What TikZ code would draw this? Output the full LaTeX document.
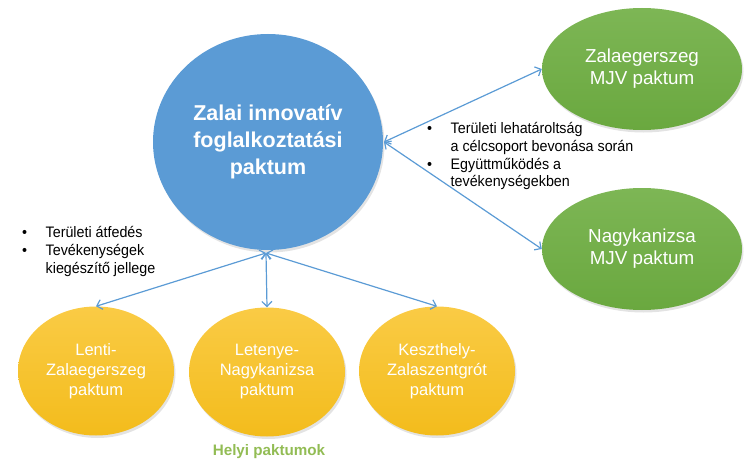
\documentclass[tikz,border=0pt]{standalone}
\usepackage{fontspec}
\setmainfont{Liberation Sans}
\usetikzlibrary{shapes.geometric,arrows.meta,shadows}
\definecolor{hubblue}{HTML}{5B9BD5}
\definecolor{linkblue}{HTML}{5B9BD5}
\definecolor{grtop}{HTML}{7DB655}
\definecolor{grbot}{HTML}{6AA83F}
\definecolor{yltop}{HTML}{FACB45}
\definecolor{ylbot}{HTML}{F3BC1C}
\definecolor{helyi}{HTML}{92BC54}
\begin{document}
\begin{tikzpicture}[x=1pt,y=-1pt,
  oval/.style={ellipse,inner sep=0pt,align=center,text=white,
    drop shadow={opacity=0.22,shadow xshift=1.5pt,shadow yshift=-2.5pt}},
  greenoval/.style={oval,minimum width=200pt,minimum height=122pt,
    top color=grtop,bottom color=grbot,
    font=\fontsize{18.8}{22}\selectfont},
  yellowoval/.style={oval,minimum width=156pt,minimum height=129pt,
    top color=yltop,bottom color=ylbot,
    font=\fontsize{16.5}{20}\selectfont},
  link/.style={draw=linkblue,line width=1.2pt,
    {Straight Barb[length=5pt,width=10pt]}-{Straight Barb[length=5pt,width=10pt]}},
  bullets/.style={inner sep=0pt,anchor=base west,
    font=\fontsize{15.2}{18}\selectfont}
]
\useasboundingbox (0,0) rectangle (745,460);

\node[oval,fill=hubblue,minimum width=230pt,minimum height=216pt,
  font=\fontsize{21.5}{27}\selectfont\bfseries] (hub) at (268,142)
  {Zalai innovatív\\foglalkoztatási\\paktum};

\node[greenoval] (zeg) at (642,69) {Zalaegerszeg\\MJV paktum};
\node[greenoval] (nk) at (642,249) {Nagykanizsa\\MJV paktum};

\node[yellowoval] (lenti) at (96,371) {Lenti-\\Zalaegerszeg\\paktum};
\node[yellowoval] (letenye) at (267,372) {Letenye-\\Nagykanizsa\\paktum};
\node[yellowoval] (keszt) at (437,371) {Keszthely-\\Zalaszentgrót\\paktum};

\coordinate (bhub) at (266,253);
\coordinate (rhub) at (384,142);

\draw[link] (bhub) -- (lenti.north);
\draw[link] (bhub) -- (letenye.north);
\draw[link] (bhub) -- (keszt.north);
\draw[link] (rhub) -- (zeg.west);
\draw[link] (rhub) -- (nk.west);

\node[bullets] (leftlist) at (22,237)
  {\scalebox{0.94}[1]{\begin{tabular}[t]{@{}p{25pt}@{}l@{}}
   • & Területi átfedés\\
   • & Tevékenységek\\
     & kiegészítő jellege
   \end{tabular}}};

\node[bullets] (rightlist) at (427,133)
  {\scalebox{0.94}[1]{\begin{tabular}[t]{@{}p{25pt}@{}l@{}}
   • & Területi lehatároltság\\
     & a célcsoport bevonása során\\
   • & Együttműködés a\\
     & tevékenységekben
   \end{tabular}}};

\node[text=helyi,font=\fontsize{15.2}{18}\selectfont\bfseries,inner sep=0pt]
  (helyi) at (269,452) {Helyi paktumok};
\end{tikzpicture}
\end{document}
